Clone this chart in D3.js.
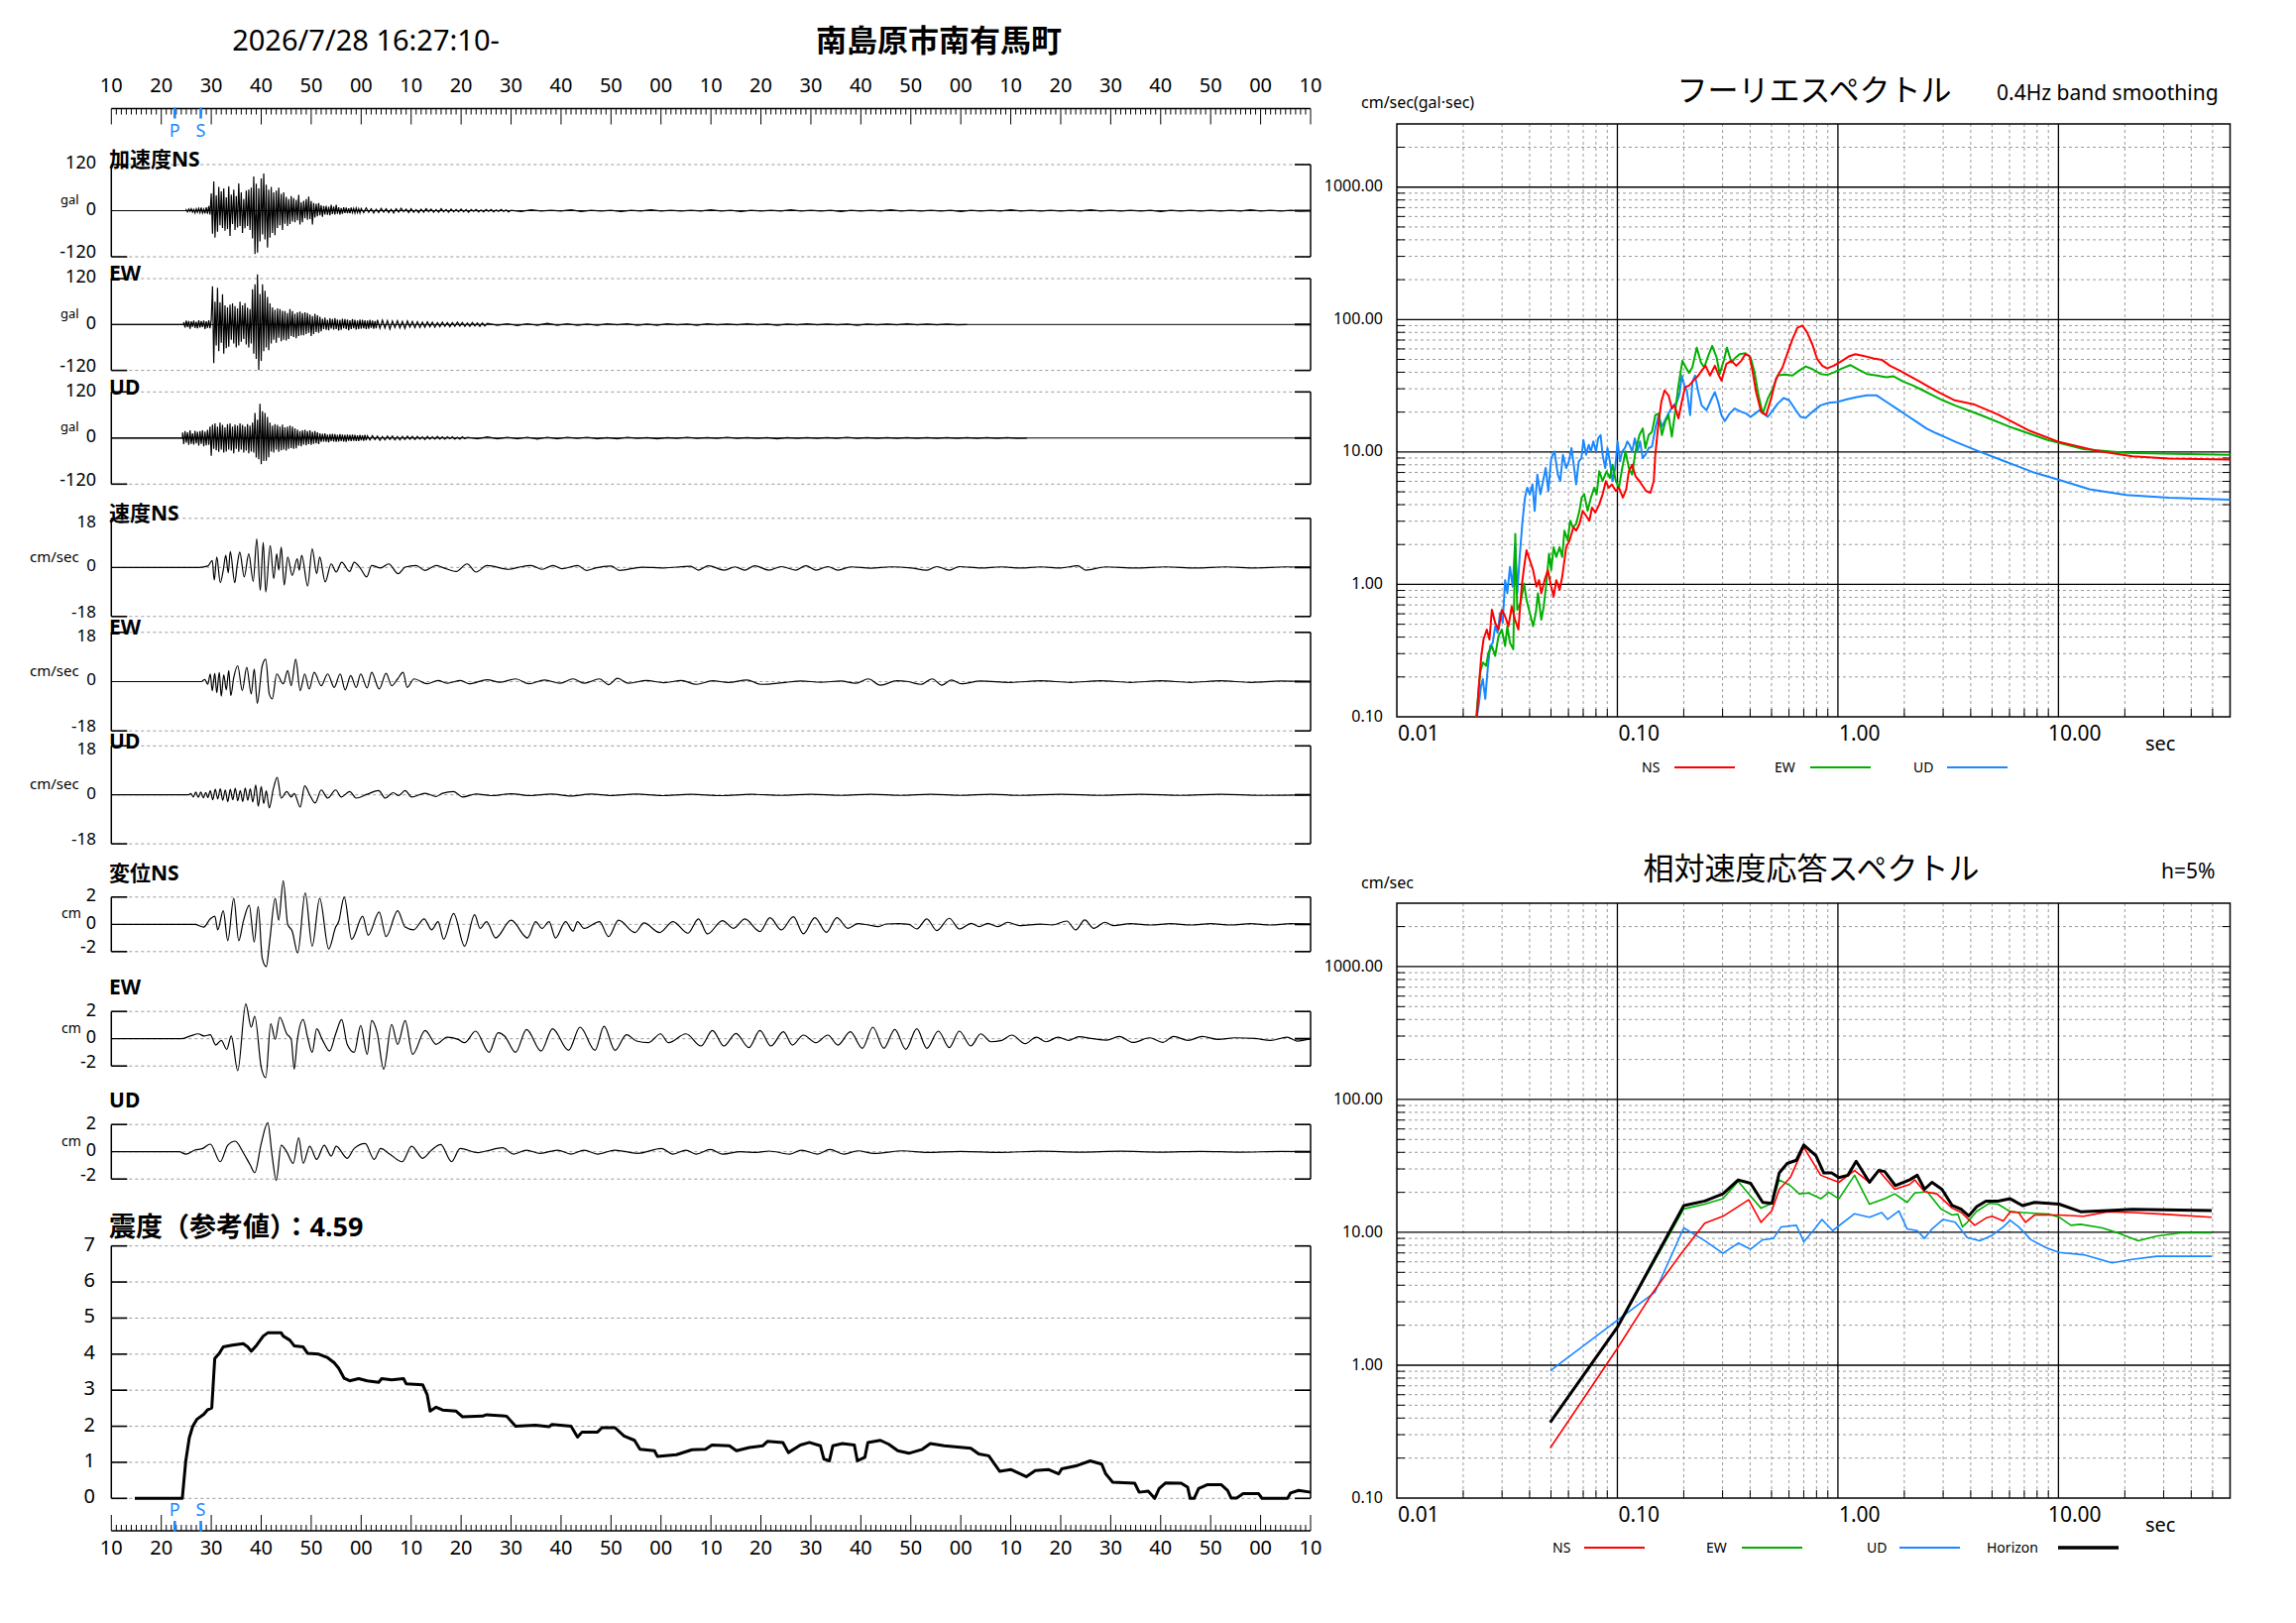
<!DOCTYPE html>
<html>
<head>
<meta charset="utf-8">
<script src="https://cdn.jsdelivr.net/npm/d3@7"></script>
<style>
  body { margin: 0; background: #fff; }
  text { font-family: "Noto Sans", "Noto Sans CJK JP", sans-serif; fill: #000; }
</style>
</head>
<body>
<script>
// ---------- data ----------
const startLabel = "2026/7/28 16:27:10-";
const stationName = "南島原市南有馬町";
const timeLabels = ["10","20","30","40","50","00","10","20","30","40","50","00","10",
                    "20","30","40","50","00","10","20","30","40","50","00","10"];
const pTime = 12.7;   // seconds after 16:27:10
const sTime = 17.9;
const intensityLabel = "震度（参考値）：4.59";

// acceleration (gal): [start sec, step sec, values]
const accNS = [
  [15, 0.25, [2,-3,4,-2,5,-4,3,-6,5,-4,6,-5,8,-6,4,-7,9,-8,12,-10,
    45,-60,76,-70,40,-55,62,-38,50,-45,58,-52,35,-48,63,-66,
    42,-35,55,-50,38,-44,71,-40,48,-58,30,-46,52,-40,55,-50,
    60,-72,89,-113,70,-109,58,-80,84,-62,97,-75,68,-96,55,-70,62,-58,48,-64,
    52,-45,60,-38,44,-50,48,-34,36,-40,30,-35,38,-28,33,-30,
    28,-25,41,-36,22,-30,26,-20,30,-24,37,-22,25,-36,20,-18,
    18,-15,20,-12,14,-16,12,-10,13,-11,10,-12,15,-9,11,-10,
    15,-8,9,-10,7,-8,9,-6,8,-7,6,-7,8,-5,6,-6,7,-5,5,-6]],
  [50, 0.5, [6,-5,7,-4,5,-6,4,-5,6,-4,5,-5,4,-6,5,-4,6,-3,4,-5,5,-4,3,-5,4,-4,5,-3,4,-4,
    3,-4,5,-3,3,-4,4,-3,3,-3,4,-3,3,-4,3,-2,3,-3,2,-3,3,-2,3,-3,2,-2,3,-2,2,-3]],
  [80, 2, [1,-2,2,-1,1,-1,2,-2,1,-1,1,-2,1,-1,2,-1,1,-1,1,-1,2,-1,1,-2,1,-1,1,-1,2,-1,
    1,-1,1,-2,1,-1,1,-1,2,-1,1,-1,1,-1,1,-2,1,-1,1,-1,2,-1,1,-1,1,-1,1,-1,2,-1,
    1,-1,1,-1,1,-2,1,-1,1,-1,1,-1,1,-1,2,-1,1,-1,1,-1,0]]
];
const accEW = [
  [14.5, 0.25, [6,-8,10,-7,9,-11,8,-6,10,-9,7,-10,11,-8,9,-7,10,-12,8,-9,11,-10,12,
    100,-101,60,-55,96,-70,58,-48,79,-76,50,-62,45,-58,52,-40,
    55,-50,48,-60,42,-55,60,-45,50,-38,56,-52,44,-60,40,-50,
    92,-76,105,-90,131,-119,80,-95,105,-70,88,-60,72,-67,55,-50,
    45,-40,38,-48,42,-35,40,-44,36,-40,35,-42,30,-38,40,-30,35,-33,28,-36,32,-30,34,-28,
    30,-28,32,-25,30,-22,26,-30,22,-25,28,-20,24,-22,20,-18,
    15,-12,18,-14,12,-15,16,-11,14,-13,17,-12,13,-16,12,-14,15,-10,14,-12,13,-15,
    11,-12,14,-10,12,-13,10,-12,13,-11,12,-10,11,-12,10,-11,12,-9,10,-11,9,-10]],
  [53.25, 0.5, [12,-10,11,-9,10,-12,9,-8,10,-9,8,-10,9,-7,8,-8,7,-8,6,-7,7,-6,
    6,-7,5,-6,6,-5,5,-6,5,-5,6,-4,5,-5,4,-5,5,-4,4,-5,4,-4]],
  [75.25, 2, [3,-2,2,-3,2,-2,3,-2,2,-2,1,-2,2,-1,2,-2,1,-2,2,-1,1,-2,2,-1,1,-1,2,-1,
    1,-2,1,-1,2,-1,1,-1,1,-2,1,-1,1,-1,2,-1,1,-1,1,-1,0]]
];
const accUD = [
  [14.25, 0.25, [14,-16,18,-12,15,-18,20,-15,12,-17,19,-14,16,-20,18,-15,20,-22,17,-19,21,-18,
    30,-46,35,-28,38,-32,30,-36,40,-30,34,-38,28,-35,36,-30,38,-33,30,-40,35,-28,32,-36,
    38,-30,34,-38,30,-33,36,-40,32,-35,40,-38,
    65,-51,48,-55,89,-68,70,-60,65,-59,55,-50,
    40,-35,32,-38,36,-30,34,-36,30,-32,35,-30,28,-33,30,-28,32,-26,30,-28,25,-27,
    22,-20,18,-22,20,-17,21,-19,18,-16,20,-18,16,-15,18,-14,15,-16,
    12,-10,11,-9,12,-10,9,-11,10,-8,11,-9,10,-10,8,-9,10,-8,9,-9,8,-10,9,-7,8,-8,
    9,-7,8,-8,7,-8,8,-6,7,-7,8,-6]],
  [51.25, 0.5, [6,-5,6,-4,5,-6,4,-5,5,-4,5,-5,4,-5,4,-4,5,-3,4,-4,4,-3,3,-4,4,-3,3,-3,
    4,-3,3,-3,3,-2,3,-3,2,-3,3,-2]],
  [71.25, 2, [2,-2,3,-2,2,-2,2,-3,2,-2,2,-1,2,-2,1,-2,2,-1,1,-2,1,-1,2,-1,1,-1,2,-1,
    1,-1,1,-2,1,-1,1,-1,1,-1,2,-1,1,-1,1,-1,1,-1,1,-1,1,-1,1,-1,1,-1,1,-1,0]]
];

// velocity (cm/sec): [sec, value] peaks
const velNS = [[0,0],[17.6,0],[19.3,0.5],[20.2,2.5],[20.6,-4.7],[21.1,3.8],[21.8,-5.6],[22.4,-1],
  [22.9,4.4],[23.4,-2],[23.8,5.8],[24.7,-5.6],[25.2,1],[25.7,5.6],[26.6,-3.5],[27.5,5.0],[28.4,-5.1],
  [29.1,10.4],[29.8,-8.4],[30.4,9.2],[30.9,-9.0],[31.8,8.0],[32.5,-4.1],[33.1,5.0],[33.5,-1],
  [34.0,7.4],[34.6,-6.5],[35.3,3.8],[36.2,-2.9],[37.2,3.2],[37.6,-1],[38.1,4.4],[39.3,-6.8],
  [40.2,6.8],[41.1,-2.3],[41.7,3.8],[42.8,-5.3],[44.0,1.3],[45.0,-1.7],[46.1,1.9],[47.7,-1.5],
  [48.6,1.9],[49.9,-0.5],[51.1,-3.5],[52.1,0.7],[53.9,-0.2],[55.5,1.3],[57.4,-2.3],[58.8,0.1],
  [61.0,0.7],[62.8,-1.1],[65.0,0.7],[66.3,0],[69.0,-1.5],[71.2,1.3],[73.0,-1.7],[75.2,0.7],
  [79.6,-0.7],[81.4,0],[84.0,0.7],[86.2,-0.7],[88.4,0.7],[90.2,-0.5],[93.3,0.7],[95.1,-1.1],
  [96.9,-0.2],[100.0,0.5],[101.7,-1.1],[106.2,0.1],[110.6,-0.2],[115.9,0.4],[117.5,-1.0],
  [119.5,0.6],[122.7,-1.0],[124.8,0.2],[126.8,-1.0],[128.8,0.6],[131.6,-1.0],[134.1,0.3],
  [137,-1.0],[139,0.6],[141,-1.0],[143.4,0.3],[145.4,-1.0],[148,0.2],[152,-0.3],[156,0.2],
  [160,-0.2],[163.2,-1.0],[165.2,0.3],[167.7,-1.0],[169.7,0.3],[174,-0.2],[178,0.2],[182,-0.2],
  [186,0.2],[190,-0.2],[193.4,0.6],[195,-1.0],[199,0.2],[205,-0.2],[211,0.2],[217,-0.2],
  [223,0.2],[229,-0.2],[235,0.2],[240,0]];
const velEW = [[0,0],[18.0,0],[18.7,0.8],[19.3,-1],[19.8,2.8],[20.2,-3.3],[20.7,3.0],[21.1,-4.0],
  [21.6,3.4],[22.0,-5.3],[22.5,2.5],[23.0,-3.0],[23.5,4.0],[23.9,-5.1],[24.5,1.5],[25.3,5.8],
  [26.2,-3.3],[27.1,5.2],[28.0,-4.5],[28.6,4.6],[29.2,-7.9],[30.2,5.8],[30.9,8.2],[31.6,-4.5],
  [32.2,-6.3],[33.1,2.8],[34.4,-0.8],[35.3,4.0],[36.0,-1.5],[36.9,8.2],[37.8,-3.3],[38.7,2.8],
  [39.6,-2.7],[40.6,3.4],[42.0,-1.5],[43.3,2.8],[44.6,-2.1],[45.8,2.8],[46.8,-3.0],[47.9,2.2],
  [49.0,-2.1],[49.9,2.8],[51.2,-2.3],[52.1,3.4],[53.6,-2.7],[55.0,3.0],[56.1,-1.5],[57.3,1.0],
  [58.4,3.4],[59.2,-2.1],[60.6,1.0],[63.2,-0.8],[65.4,0.4],[67.2,-0.6],[69.9,0.4],[71.6,-0.8],
  [75.2,0.7],[77.8,-0.2],[80.9,1.0],[83.6,-0.8],[86.7,0.6],[89.8,-0.6],[92.4,1.0],[94.6,-0.6],
  [97.7,1.0],[99.5,-1.1],[101.3,1.2],[103.5,-0.6],[107.1,0.4],[110.6,-0.4],[114.1,0.4],
  [117.1,-1.0],[120.3,0.3],[123.5,-0.3],[127.2,0.6],[130,-1.0],[134.9,-0.3],[138,0.2],[142,-0.2],
  [146,0.2],[149,-0.6],[151.5,1.0],[153.9,-1.3],[157.2,0.3],[159.5,0],[162,-1.0],[164.3,1.0],
  [166.2,-1.3],[168.1,0.6],[170.1,-0.8],[174,0.2],[180,-0.3],[186,0.3],[192,-0.3],[198,0.3],
  [204,-0.3],[210,0.3],[216,-0.3],[222,0.3],[228,-0.3],[234,0.2],[240,0]];
const velUD = [[0,0],[15.4,0],[15.9,0.5],[16.4,-0.8],[16.9,1.0],[17.4,-0.9],[17.9,1.0],[18.4,-1.1],
  [18.9,0.9],[19.3,-1.0],[19.8,1.5],[20.3,-1.8],[20.8,2.0],[21.3,-1.5],[21.8,2.2],[22.3,-2.0],
  [22.8,1.8],[23.3,-2.5],[23.8,2.0],[24.3,-1.8],[24.8,2.4],[25.3,-2.2],[25.8,1.6],[26.3,-2.4],
  [26.8,2.5],[27.3,-2.0],[27.8,2.2],[28.3,-2.6],[28.9,3.6],[29.4,-4.2],[30.0,3.0],[30.5,-3.2],
  [31.0,1.5],[31.6,-4.8],[32.4,2.0],[33.2,6.4],[34.0,-1.2],[35.1,1.2],[36.0,-0.8],[36.6,0.5],
  [37.8,-4.5],[38.7,3.3],[39.7,0],[40.8,-3.0],[42.0,1.8],[43.3,-1.2],[44.9,1.8],[46.0,-0.8],
  [47.7,1.2],[49.0,-1.2],[51.2,0.2],[53.5,1.6],[54.8,-1.2],[56.4,0.8],[57.5,-0.3],[58.8,1.6],
  [60.1,-0.8],[62.8,0.6],[65.0,-0.6],[66.3,0.6],[68.5,1.2],[70.3,-0.8],[73,0.3],[76,-0.3],
  [80,0.4],[84,-0.3],[88,0.3],[92,-0.4],[96,0.3],[100,-0.3],[105,0.3],[110,-0.3],[116,0.2],
  [122,-0.3],[128,0.2],[134,-0.2],[140,0.2],[146,-0.2],[152,0.2],[158,-0.2],[164,0.2],
  [170,-0.2],[176,0.2],[182,-0.2],[190,0.2],[198,-0.2],[206,0.2],[214,-0.2],[222,0.2],
  [230,-0.2],[240,0]];

// displacement (cm): [sec, value] peaks
const dispNS = [[0,0],[16.7,0],[18.5,-0.2],[19.8,0.4],[20.7,0.6],[21.3,-0.4],[22.4,1.0],[23.3,-1.2],
  [24.5,1.9],[25.5,-1.2],[26.4,0.2],[27.6,1.4],[28.6,-1.3],[29.4,1.3],[30.2,-2.5],[31.0,-3.1],
  [31.7,-1.2],[32.8,1.9],[33.5,0.3],[34.4,3.2],[35.3,0],[36.2,-0.5],[37.3,-2.1],[38.8,2.3],
  [40.2,-1.6],[41.7,1.9],[43.5,-1.8],[44.9,-0.2],[45.5,0.2],[46.6,2.0],[48.1,-1.1],[50.3,0.6],
  [51.4,-0.8],[53.6,0.9],[55.0,-0.9],[57.3,1.0],[58.8,-0.2],[60.5,-0.4],[62.6,0.4],[64.1,-0.4],
  [65.4,0.2],[66.5,-1.1],[68.5,0.8],[70.7,-1.6],[72.7,0.7],[73.8,-0.3],[75.1,0.2],[76.9,-1.0],
  [80.0,0.3],[83.3,-1.0],[84.9,0.2],[86.2,-0.3],[87.6,0.2],[88.9,-1.0],[90.9,0.2],[92.4,-0.5],
  [93.3,0.2],[94.6,-0.3],[97.7,0.2],[99.5,-0.9],[101.5,0.3],[104.8,-0.6],[106.6,0.1],[109.7,-0.6],
  [112.4,0.2],[115.4,-0.65],[117.5,0.39],[119.3,-0.7],[122.3,0.27],[124.5,-0.29],[126.8,0.39],
  [129.8,-0.53],[131.8,0.48],[134.1,-0.41],[136.5,0.56],[138.5,-0.7],[140.8,0.48],[143.1,-0.58],
  [145.2,0.48],[147.4,-0.29],[149.4,0.05],[151.5,-0.05],[153.5,-0.17],[155.1,0.02],[157.5,0.05],
  [159.6,0],[161.2,-0.34],[163.2,0.39],[165.2,-0.46],[167.7,0.44],[169.7,-0.34],[172.1,0.07],
  [173.7,-0.17],[175.4,0.07],[177.4,-0.17],[179.4,0.15],[181.8,-0.1],[185.9,0.02],[188.3,-0.05],
  [191.2,0.24],[193.0,-0.41],[194.8,0.32],[196.6,-0.29],[198.9,0.15],[200.5,-0.1],[204,0.05],
  [208,-0.05],[212,0.05],[216,-0.05],[220,0.05],[224,-0.05],[228,0.05],[232,-0.05],[236,0.05],[240,0]];
const dispEW = [[0,0],[14.0,0],[15.8,0.2],[17.4,0.36],[18.6,0.2],[19.8,0.3],[20.9,-0.46],[22.0,-0.12],
  [23.1,-0.78],[24.0,0.2],[25.3,-2.35],[26.9,2.55],[28.0,0.85],[28.7,1.65],[30.0,-2.1],[30.9,-2.85],
  [31.9,1.1],[32.8,-0.05],[33.7,1.58],[35.1,0.36],[36.0,-0.05],[36.6,-2.23],[37.2,-0.17],[38.4,1.4],
  [39.3,0.07],[40.2,-1.0],[41.1,0.73],[42.2,-0.05],[43.7,-0.9],[44.9,0.36],[46.1,1.4],[47.2,-0.41],
  [48.6,-1.0],[49.9,0.97],[51.2,-1.14],[52.1,1.33],[53.2,0.44],[54.5,-2.23],[56.1,1.04],[57.3,-0.41],
  [58.8,1.33],[60.3,-1.14],[62.8,0.61],[65.0,-0.41],[67.2,0.12],[69.4,-0.05],[70.7,-0.29],[72.9,0.56],
  [75.6,-1.0],[77.4,0.44],[78.7,0.2],[80.9,-1.0],[83.1,0.68],[86.0,-0.9],[88.3,0.73],[91.5,-0.85],
  [93.8,0.85],[96.8,-0.85],[98.6,0.92],[100.8,-0.85],[103.1,0.3],[105.1,-0.17],[107.5,-0.29],
  [109.9,0.36],[111.5,-0.29],[115.0,0.36],[118.0,-0.53],[120.3,0.61],[122.6,-0.53],[125.0,0.39],
  [127.6,-0.65],[129.8,0.61],[132.0,-0.53],[134.5,0.51],[136.3,-0.46],[138.5,0.27],[141.0,-0.29],
  [143.4,0.27],[145.4,-0.46],[147.9,0.51],[150.3,-0.7],[152.4,0.85],[154.6,-0.7],[156.8,0.68],
  [159.0,-0.78],[161.2,0.73],[163.2,-0.7],[165.5,0.56],[167.7,-0.65],[169.7,0.56],[172.0,-0.53],
  [174.0,0.36],[176.0,-0.22],[178.2,-0.12],[180.2,0.27],[182.9,-0.36],[185.1,0.12],[187.1,-0.22],
  [189.5,0.12],[191.6,-0.12],[193.6,0.15],[196.5,0],[199.2,-0.1],[201.7,0.17],[204.5,-0.27],
  [207.8,0.07],[210.4,-0.27],[212.6,0.17],[215.5,-0.12],[218.3,0.17],[221.5,-0.05],[224.8,0.07],
  [228.8,0.02],[232.0,-0.12],[235.3,0.12],[237.3,-0.17],[240,0]];
const dispUD = [[0,0],[13.6,0],[14.9,-0.17],[16.7,0.12],[18.3,0.24],[19.8,0.56],[21.8,-0.73],[23.3,0.48],
  [24.8,0.78],[26.3,0],[27.8,-0.97],[28.7,-1.53],[30.0,0.61],[31.3,2.13],[32.2,-0.36],[33.0,-2.1],
  [34.0,0.48],[35.1,0],[36.4,-0.85],[37.5,1.02],[38.4,-0.85],[39.7,0.41],[41.1,-0.56],[42.6,0.48],
  [44.0,-0.32],[45.0,0.41],[47.2,-0.48],[48.6,0.24],[50.8,0.61],[52.6,-0.56],[53.9,0.24],[55.7,-0.17],
  [58.2,-0.73],[60.1,0.41],[62.3,-0.48],[64.1,0.12],[65.9,0.53],[68.1,-0.73],[69.8,0.24],[73.4,-0.07],
  [75.2,0.07],[78.3,0.29],[80.5,-0.17],[83.1,0.12],[85.8,-0.12],[89.3,0.12],[92.0,-0.17],[94.6,0.12],
  [97.3,-0.17],[100.8,0.12],[105.3,-0.12],[110.1,0.24],[112.4,-0.17],[115.0,0.12],[117.0,-0.17],
  [119.9,0.17],[122.3,-0.17],[125.9,0],[129.2,-0.05],[131.6,0.05],[135.8,-0.17],[138.1,0.12],
  [141.3,-0.17],[143.8,0.17],[146.6,-0.17],[149.4,0.07],[152.7,-0.12],[158.4,0.07],[163.2,-0.05],
  [170,0.03],[178,-0.05],[186,0.04],[194,-0.03],[202,0.04],[210,-0.03],[218,0.03],[226,-0.03],
  [234,0.02],[240,0]];

// real-time seismic intensity: [sec, value]
const intensity = [[4.7,0],[14.2,0],[14.9,1.04],[15.6,1.68],[16.3,2.0],[17.1,2.19],[18.5,2.33],
  [19.3,2.46],[20.1,2.51],[20.7,3.88],[21.6,4.02],[22.4,4.2],[24.2,4.25],[26.4,4.29],[27.3,4.2],
  [28.0,4.08],[29.1,4.25],[30.4,4.5],[31.3,4.59],[34.0,4.59],[34.4,4.5],[35.7,4.39],[36.6,4.23],
  [38.4,4.2],[39.3,4.02],[41.5,4.0],[43.3,3.9],[44.6,3.76],[45.5,3.61],[46.6,3.33],[47.7,3.26],
  [49.5,3.32],[51.2,3.26],[53.5,3.22],[54.1,3.32],[56.1,3.29],[58.5,3.32],[59.0,3.18],[62.3,3.15],
  [63.2,2.88],[63.8,2.42],[65.0,2.53],[66.3,2.45],[69.0,2.42],[70.3,2.26],[74.3,2.28],[75.1,2.32],
  [79.1,2.28],[80.9,2.0],[84.9,2.03],[87.6,1.99],[88.2,2.05],[92.0,2.0],[93.3,1.70],[94.2,1.84],
  [97.3,1.84],[98.2,1.96],[100.8,1.96],[102.6,1.73],[104.7,1.61],[105.8,1.36],[108.7,1.32],
  [109.3,1.16],[113.1,1.21],[116.2,1.35],[118.9,1.36],[120.2,1.48],[123.7,1.46],[125.1,1.32],
  [127.7,1.41],[130.4,1.46],[131.3,1.58],[134.4,1.55],[135.5,1.27],[137.9,1.48],[139.7,1.55],
  [141.9,1.46],[142.6,1.09],[143.7,1.04],[144.4,1.46],[146.3,1.52],[148.7,1.48],[149.3,1.04],
  [150.8,1.14],[151.4,1.55],[153.9,1.61],[155.6,1.50],[157.4,1.32],[159.6,1.25],[162.3,1.36],
  [163.9,1.52],[166.7,1.46],[172.0,1.39],[173.6,1.23],[175.6,1.18],[177.8,0.75],[180.0,0.80],
  [183.1,0.60],[184.9,0.77],[187.5,0.80],[189.6,0.68],[190.2,0.82],[193.3,0.91],[195.9,1.04],
  [198.2,0.95],[199.0,0.68],[200.4,0.45],[204.8,0.42],[205.7,0.17],[207.5,0.20],[208.8,0],
  [209.7,0.27],[211.0,0.43],[214.1,0.42],[215.4,0.31],[215.9,0],[216.7,0],[217.6,0.27],[219.4,0.38],
  [222.1,0.38],[223.4,0.22],[224.1,0.01],[225.2,0.01],[226.5,0.13],[229.6,0.13],[230.3,0],
  [235.4,0],[236.0,0.15],[237.6,0.22],[240,0.17]];

// Fourier spectrum, 0.4Hz smoothing: [log10 period(sec), log10 amplitude(cm/sec)]
const fasNS = [[-1.637,-1.0],[-1.629,-0.79],[-1.617,-0.54],[-1.607,-0.416],[-1.592,-0.341],[-1.580,-0.416],
  [-1.569,-0.192],[-1.554,-0.291],[-1.539,-0.341],[-1.524,-0.192],[-1.509,-0.242],[-1.494,-0.316],
  [-1.479,-0.167],[-1.464,-0.266],[-1.449,-0.341],[-1.434,-0.017],[-1.423,0.132],[-1.412,0.257],
  [-1.397,0.182],[-1.382,0.107],[-1.367,-0.017],[-1.355,0.032],[-1.345,-0.067],[-1.330,0.032],
  [-1.315,0.107],[-1.300,-0.017],[-1.289,-0.092],[-1.277,0.032],[-1.262,-0.042],[-1.250,0.057],
  [-1.232,0.281],[-1.217,0.331],[-1.199,0.431],[-1.187,0.406],[-1.172,0.456],[-1.157,0.555],
  [-1.142,0.518],[-1.127,0.481],[-1.115,0.580],[-1.100,0.543],[-1.082,0.605],[-1.067,0.680],
  [-1.052,0.780],[-1.040,0.730],[-1.025,0.755],[-1.007,0.705],[-0.993,0.730],[-0.975,0.655],
  [-0.960,0.717],[-0.948,0.854],[-0.933,0.904],[-0.918,0.817],[-0.900,0.780],[-0.885,0.742],
  [-0.870,0.705],[-0.850,0.692],[-0.835,0.780],[-0.828,0.979],[-0.816,1.178],[-0.801,1.377],
  [-0.786,1.465],[-0.768,1.427],[-0.753,1.328],[-0.741,1.352],[-0.723,1.253],[-0.708,1.377],
  [-0.693,1.489],[-0.675,1.502],[-0.655,1.539],[-0.633,1.577],[-0.618,1.614],[-0.600,1.651],
  [-0.580,1.577],[-0.558,1.651],[-0.543,1.589],[-0.528,1.539],[-0.506,1.664],[-0.483,1.689],
  [-0.461,1.651],[-0.438,1.689],[-0.420,1.738],[-0.401,1.726],[-0.386,1.601],[-0.371,1.452],
  [-0.348,1.303],[-0.326,1.278],[-0.303,1.402],[-0.281,1.552],[-0.251,1.639],[-0.228,1.751],
  [-0.206,1.851],[-0.184,1.938],[-0.161,1.955],[-0.139,1.900],[-0.116,1.813],[-0.094,1.701],
  [-0.071,1.651],[-0.049,1.631],[-0.019,1.651],[0.019,1.689],[0.049,1.721],[0.079,1.738],
  [0.116,1.726],[0.161,1.706],[0.199,1.696],[0.236,1.651],[0.281,1.614],[0.326,1.572],[0.371,1.532],
  [0.416,1.489],[0.461,1.447],[0.530,1.390],[0.615,1.361],[0.726,1.282],[0.864,1.164],[1.003,1.075],
  [1.169,1.011],[1.335,0.968],[1.501,0.950],[1.778,0.943]];
const fasEW = [[-1.640,-1.0],[-1.634,-0.889],[-1.622,-0.665],[-1.610,-0.590],[-1.595,-0.615],[-1.585,-0.516],
  [-1.569,-0.466],[-1.554,-0.540],[-1.539,-0.391],[-1.524,-0.341],[-1.509,-0.466],[-1.499,-0.316],
  [-1.487,-0.441],[-1.472,-0.490],[-1.463,0.381],[-1.454,-0.192],[-1.439,-0.142],[-1.423,0.007],
  [-1.412,-0.117],[-1.397,-0.216],[-1.382,-0.316],[-1.370,-0.216],[-1.360,-0.067],[-1.345,-0.266],
  [-1.334,-0.167],[-1.322,0.007],[-1.310,0.232],[-1.300,0.107],[-1.289,0.281],[-1.277,0.207],
  [-1.262,0.281],[-1.250,0.207],[-1.240,0.406],[-1.225,0.331],[-1.214,0.481],[-1.202,0.431],
  [-1.187,0.456],[-1.172,0.555],[-1.162,0.655],[-1.150,0.680],[-1.135,0.555],[-1.120,0.655],
  [-1.105,0.730],[-1.094,0.680],[-1.082,0.854],[-1.067,0.780],[-1.049,0.854],[-1.034,0.804],
  [-1.022,0.904],[-1.007,0.780],[-0.993,0.730],[-0.978,0.879],[-0.963,1.004],[-0.948,0.879],
  [-0.933,0.829],[-0.918,1.004],[-0.900,1.128],[-0.885,1.178],[-0.873,1.029],[-0.858,1.128],
  [-0.843,1.153],[-0.828,1.278],[-0.813,1.290],[-0.798,1.128],[-0.783,1.228],[-0.768,1.278],
  [-0.753,1.116],[-0.738,1.303],[-0.723,1.502],[-0.705,1.689],[-0.690,1.639],[-0.675,1.597],
  [-0.660,1.639],[-0.640,1.788],[-0.621,1.676],[-0.606,1.639],[-0.588,1.726],[-0.570,1.801],
  [-0.550,1.714],[-0.536,1.589],[-0.516,1.701],[-0.503,1.788],[-0.483,1.676],[-0.468,1.706],
  [-0.446,1.738],[-0.420,1.746],[-0.396,1.714],[-0.378,1.601],[-0.360,1.427],[-0.341,1.290],
  [-0.318,1.402],[-0.296,1.477],[-0.273,1.577],[-0.243,1.584],[-0.206,1.577],[-0.176,1.614],
  [-0.146,1.646],[-0.116,1.626],[-0.079,1.589],[-0.049,1.582],[-0.019,1.601],[0.019,1.631],
  [0.056,1.656],[0.094,1.621],[0.131,1.589],[0.176,1.577],[0.221,1.564],[0.251,1.572],[0.296,1.532],
  [0.341,1.502],[0.386,1.465],[0.431,1.427],[0.476,1.390],[0.530,1.352],[0.643,1.282],[0.781,1.189],
  [0.947,1.093],[1.114,1.021],[1.307,0.993],[1.529,0.986],[1.778,0.979]];
const fasUD = [[-1.637,-1.0],[-1.629,-0.914],[-1.618,-0.765],[-1.610,-0.715],[-1.599,-0.864],[-1.588,-0.640],
  [-1.577,-0.466],[-1.565,-0.441],[-1.554,-0.316],[-1.543,-0.366],[-1.532,-0.216],[-1.520,-0.291],
  [-1.509,0.032],[-1.499,-0.067],[-1.487,0.132],[-1.475,-0.017],[-1.464,0.306],[-1.454,-0.067],
  [-1.442,0.232],[-1.430,0.481],[-1.419,0.655],[-1.409,0.730],[-1.397,0.680],[-1.385,0.755],
  [-1.375,0.555],[-1.363,0.829],[-1.349,0.680],[-1.337,0.780],[-1.325,0.879],[-1.313,0.705],
  [-1.300,0.954],[-1.285,1.004],[-1.270,0.829],[-1.259,0.780],[-1.247,0.979],[-1.232,0.879],
  [-1.220,0.929],[-1.208,1.029],[-1.196,0.879],[-1.187,0.755],[-1.175,0.929],[-1.163,0.954],
  [-1.154,1.091],[-1.142,0.979],[-1.130,1.054],[-1.120,1.004],[-1.109,1.079],[-1.097,1.004],
  [-1.087,1.103],[-1.076,1.128],[-1.067,0.979],[-1.055,0.879],[-1.045,1.029],[-1.034,0.929],
  [-1.022,0.780],[-1.010,0.879],[-0.999,1.079],[-0.988,0.929],[-0.978,1.004],[-0.966,1.029],
  [-0.955,1.079],[-0.945,1.054],[-0.933,1.004],[-0.921,1.103],[-0.909,1.004],[-0.897,1.079],
  [-0.885,0.954],[-0.873,0.979],[-0.858,1.029],[-0.843,1.041],[-0.828,1.178],[-0.813,1.278],
  [-0.798,1.191],[-0.780,1.253],[-0.760,1.315],[-0.745,1.352],[-0.730,1.377],[-0.718,1.440],
  [-0.708,1.577],[-0.696,1.502],[-0.685,1.465],[-0.670,1.278],[-0.660,1.527],[-0.648,1.577],
  [-0.633,1.452],[-0.618,1.352],[-0.596,1.315],[-0.576,1.390],[-0.558,1.452],[-0.543,1.377],
  [-0.528,1.278],[-0.513,1.233],[-0.491,1.290],[-0.468,1.328],[-0.438,1.303],[-0.416,1.290],
  [-0.396,1.265],[-0.375,1.290],[-0.356,1.315],[-0.336,1.290],[-0.318,1.265],[-0.300,1.303],
  [-0.273,1.365],[-0.246,1.407],[-0.221,1.390],[-0.191,1.315],[-0.169,1.265],[-0.146,1.258],
  [-0.116,1.303],[-0.079,1.352],[-0.041,1.372],[-0.004,1.377],[0.041,1.397],[0.086,1.415],
  [0.131,1.427],[0.176,1.427],[0.221,1.377],[0.266,1.328],[0.311,1.278],[0.356,1.228],[0.401,1.178],
  [0.446,1.141],[0.491,1.108],[0.530,1.078],[0.615,1.021],[0.753,0.932],[0.892,0.843],[1.003,0.789],
  [1.141,0.718],[1.307,0.675],[1.501,0.654],[1.778,0.639]];

// relative velocity response spectrum, h=5%: [period sec, cm/sec]
const rsNS = [[0.0496,0.238],[0.1,1.34],[0.145,3.54],[0.193,6.78],[0.249,11.7],[0.301,13.2],[0.394,17.6],
  [0.448,11.9],[0.502,14.6],[0.542,21.1],[0.608,25.8],[0.700,43.7],[0.836,26.9],[1.01,23.8],[1.19,29.2],
  [1.39,23.8],[1.53,29.2],[1.81,21.1],[2.11,22.9],[2.23,24.8],[2.47,20.2],[2.81,19.5],[3.30,15.2],
  [3.63,14.1],[4.17,11.3],[4.69,12.8],[5.0,13.2],[5.63,12.2],[6.04,14.3],[6.6,14.1],[7.08,11.9],
  [7.8,13.5],[10.07,13.5],[13.0,13.2],[16.8,14.3],[21.6,14.1],[29.8,13.7],[49.5,13.0]];
const rsEW = [[0.0496,0.37],[0.1,1.93],[0.2,15.0],[0.249,16.3],[0.301,17.9],[0.353,24.2],[0.402,18.7],
  [0.448,15.2],[0.502,16.5],[0.542,24.8],[0.608,22.5],[0.668,19.5],[0.737,19.8],[0.836,17.9],[0.91,20],
  [1.01,17.9],[1.19,26.9],[1.39,16.3],[1.63,17.9],[1.81,19.5],[2.06,16.8],[2.23,19.8],[2.54,20.2],
  [2.93,15],[3.30,13.5],[3.5,13.7],[3.67,11.0],[3.86,11.9],[4.26,14.4],[4.84,16.5],[5.32,16.3],
  [6.04,14.3],[7.8,13.9],[9.1,13.7],[10.07,13.0],[11.4,11.3],[12.6,11.5],[15.8,10.8],[19.1,9.76],
  [23.0,8.65],[27.9,9.37],[35.9,9.9],[49.5,9.9]];
const rsUD = [[0.0496,0.908],[0.1,2.18],[0.148,3.54],[0.2,10.8],[0.249,8.65],[0.301,6.95],[0.353,8.3],
  [0.402,7.47],[0.456,8.79],[0.51,9.0],[0.553,11.0],[0.648,11.3],[0.700,8.5],[0.785,10.6],[0.846,12.5],
  [0.947,10.3],[1.19,13.8],[1.39,13.0],[1.58,14.1],[1.68,12.5],[1.89,14.5],[2.06,10.6],[2.29,10.3],
  [2.47,9.0],[2.67,10.6],[3.0,12.5],[3.4,11.9],[3.86,9.14],[4.4,8.65],[5.0,9.5],[5.63,11.0],[6.04,12.3],
  [6.6,11.0],[7.5,8.8],[8.8,7.66],[10.07,7.06],[13.0,6.78],[17.5,5.9],[21.6,6.25],[27.9,6.6],[49.5,6.6]];
const rsH = [[0.0496,0.372],[0.1,1.93],[0.2,15.9],[0.249,17.2],[0.301,19.5],[0.353,24.8],[0.402,23.4],
  [0.456,16.8],[0.502,16.5],[0.542,28],[0.589,33],[0.648,34.9],[0.700,45.5],[0.795,37.8],[0.863,28],
  [0.937,28],[1.01,25.8],[1.11,26.9],[1.21,34.3],[1.39,23.8],[1.53,29.2],[1.63,28.7],[1.82,22.5],
  [2.11,24.8],[2.29,26.9],[2.47,21.1],[2.67,23.8],[2.96,21.1],[3.30,15.9],[3.63,14.9],[3.92,13.3],
  [4.26,15.6],[4.69,17.2],[5.32,17.2],[6.04,17.9],[6.87,15.9],[7.80,16.8],[10.07,16.3],[12.6,14.3],
  [16.8,14.6],[21.6,14.9],[49.5,14.6]];

// ---------- layout ----------
const W = 2316, H = 1637;
const x0 = 112.3, x1 = 1322;
const red = "#ff0000", green = "#00b000", blue = "#1a88ff";

const svg = d3.select("body").append("svg")
  .attr("width", W).attr("height", H)
  .attr("viewBox", `0 0 ${W} ${H}`);

const xT = d3.scaleLinear().domain([0, 240]).range([x0, x1]);

// header
svg.append("text").attr("x", 369).attr("y", 41).attr("dy", "0.35em")
  .attr("text-anchor", "middle").style("font-size", "29px").text(startLabel);
svg.append("text").attr("x", 947).attr("y", 41).attr("dy", "0.35em")
  .attr("text-anchor", "middle").style("font-size", "31px").style("font-weight", "bold")
  .style("font-family", "'Noto Sans CJK JP'").text(stationName);

// time axis (top or bottom)
function timeAxis(yLine, dir, labelY, psLetterY) {
  const g = svg.append("g");
  g.append("line").attr("x1", x0).attr("x2", x1).attr("y1", yLine).attr("y2", yLine)
    .attr("stroke", "#000").attr("stroke-width", 1.5);
  g.selectAll(".tk").data(d3.range(0, 241)).enter().append("line")
    .attr("x1", d => xT(d)).attr("x2", d => xT(d))
    .attr("y1", yLine).attr("y2", d => yLine + dir * (d % 10 === 0 ? 16 : 6))
    .attr("stroke", "#000").attr("stroke-width", 1);
  g.selectAll(".lb").data(timeLabels).enter().append("text")
    .attr("x", (d, i) => xT(i * 10)).attr("y", labelY).attr("dy", "0.35em")
    .attr("text-anchor", "middle").style("font-size", "20px").text(d => d);
  [[pTime, "P"], [sTime, "S"]].forEach(([t, s]) => {
    g.append("rect").attr("x", xT(t) - 1.3).attr("width", 2.6)
      .attr("y", dir > 0 ? yLine - 1 : yLine - 10).attr("height", 11).attr("fill", blue);
    g.append("text").attr("x", xT(t)).attr("y", psLetterY).attr("dy", "0.35em")
      .attr("text-anchor", "middle").style("font-size", "18px").style("fill", blue).text(s);
  });
}
timeAxis(109.5, 1, 86, 132);
timeAxis(1544, -1, 1561, 1523);

// waveform panels
function expand(segs) {
  const pts = [[0, 0], [segs[0][0] - 0.01, 0]];
  segs.forEach(([t0, dt, vals]) => vals.forEach((v, i) => pts.push([t0 + i * dt, v])));
  return pts.filter(d => d[0] <= 240);
}

const panels = [
  { title: "加速度NS", unit: "gal", max: 120, data: expand(accNS), zero: 212.5, half: 46.5, kind: "acc" },
  { title: "EW", unit: "gal", max: 120, data: expand(accEW), zero: 327.3, half: 46.3, kind: "acc" },
  { title: "UD", unit: "gal", max: 120, data: expand(accUD), zero: 441.8, half: 46.5, kind: "acc" },
  { title: "速度NS", unit: "cm/sec", max: 18, data: velNS, zero: 572.3, half: 49.5, kind: "vel" },
  { title: "EW", unit: "cm/sec", max: 18, data: velEW, zero: 687.5, half: 49.7, kind: "vel" },
  { title: "UD", unit: "cm/sec", max: 18, data: velUD, zero: 801.7, half: 49.4, kind: "vel" },
  { title: "変位NS", unit: "cm", max: 2, data: dispNS, zero: 932.3, half: 27.5, kind: "disp" },
  { title: "EW", unit: "cm", max: 2, data: dispEW, zero: 1047.7, half: 27.5, kind: "disp" },
  { title: "UD", unit: "cm", max: 2, data: dispUD, zero: 1161.7, half: 27.5, kind: "disp" }
];

function hLine(g, y, dotted) {
  g.append("line").attr("x1", x0).attr("x2", x1).attr("y1", y).attr("y2", y)
    .attr("stroke", dotted ? "#9a9a9a" : "#000").attr("stroke-width", 1)
    .attr("stroke-dasharray", dotted ? "3,3" : null);
}
function stubs(g, ys) {
  ys.forEach(y => {
    g.append("line").attr("x1", x0).attr("x2", x0 + 16).attr("y1", y).attr("y2", y)
      .attr("stroke", "#000").attr("stroke-width", 1.6);
    g.append("line").attr("x1", x1 - 16).attr("x2", x1).attr("y1", y).attr("y2", y)
      .attr("stroke", "#000").attr("stroke-width", 1.6);
  });
}

panels.forEach(p => {
  const g = svg.append("g");
  const top = p.zero - p.half, bot = p.zero + p.half;
  const y = d3.scaleLinear().domain([-p.max, p.max]).range([bot, top]);

  hLine(g, top, true);
  hLine(g, bot, true);
  hLine(g, p.zero, p.kind !== "acc");
  [x0, x1].forEach(xx => g.append("line").attr("x1", xx).attr("x2", xx)
    .attr("y1", top).attr("y2", bot).attr("stroke", "#000").attr("stroke-width", 1.5));
  stubs(g, [top, bot]);
  g.append("line").attr("x1", x1 - 16).attr("x2", x1).attr("y1", p.zero).attr("y2", p.zero)
    .attr("stroke", "#000").attr("stroke-width", 2);

  const curve = p.kind === "acc" ? d3.curveLinear : d3.curveMonotoneX;
  g.append("path").datum(p.data)
    .attr("d", d3.line().x(d => xT(d[0])).y(d => y(d[1])).curve(curve))
    .attr("fill", "none").attr("stroke", "#000").attr("stroke-width", 1.2);

  // labels (velocity panels sit close together, so nudge their end labels apart)
  const nudge = p.kind === "vel" ? 3 : -2;
  const fs = p.kind === "vel" ? 17 : 18;
  [[p.max, String(p.max), nudge], [0, "0", -2], [-p.max, "-" + p.max, -5]].forEach(([v, s, dy]) => {
    g.append("text").attr("x", 97).attr("y", y(v) + dy).attr("dy", "0.35em")
      .attr("text-anchor", "end").style("font-size", fs + "px").text(s);
  });
  const uFont = { gal: 13, "cm/sec": 15, cm: 14 }[p.unit];
  const uX = { gal: 61, "cm/sec": 30, cm: 62 }[p.unit];
  g.append("text").attr("x", uX).attr("y", p.zero - 11).attr("dy", "0.35em")
    .style("font-size", uFont + "px").text(p.unit);
  const titleY = p.kind === "disp" ? p.zero - 52 : top - 5;
  g.append("text").attr("x", 110).attr("y", titleY).attr("dy", "0.35em")
    .style("font-size", "21px").style("font-weight", "bold").text(p.title);
});

// intensity panel
const yI = d3.scaleLinear().domain([0, 7]).range([1511.3, 1256.7]);
const gI = svg.append("g");
d3.range(0, 8).forEach(v => {
  hLine(gI, yI(v), true);
  gI.append("text").attr("x", 96).attr("y", yI(v) - 2).attr("dy", "0.35em")
    .attr("text-anchor", "end").style("font-size", "20px").text(v);
});
stubs(gI, d3.range(0, 8).map(v => yI(v)));
[x0, x1].forEach(xx => gI.append("line").attr("x1", xx).attr("x2", xx)
  .attr("y1", yI(7)).attr("y2", yI(0)).attr("stroke", "#000").attr("stroke-width", 1.5));
gI.append("text").attr("x", 110).attr("y", 1238).attr("dy", "0.35em")
  .style("font-size", "27px").style("font-weight", "bold").text(intensityLabel);
gI.append("path").datum(intensity)
  .attr("d", d3.line().x(d => xT(d[0])).y(d => yI(d[1])))
  .attr("fill", "none").attr("stroke", "#000").attr("stroke-width", 3)
  .attr("stroke-linejoin", "round");

// ---------- spectra ----------
function spectrum(cfg) {
  const g = svg.append("g");
  const x = d3.scaleLog().domain([0.01, 60]).range([1409, 2249.5]);
  const y = d3.scaleLog().domain([0.1, 3000]).range([cfg.bottom, cfg.top]);
  const L = 1409, R = 2249.5;

  const minors = (lo, hi) => {
    const out = [];
    [0.01, 0.1, 1, 10, 100, 1000].forEach(dec => d3.range(2, 10).forEach(k => {
      const v = +(k * dec).toPrecision(3);
      if (v > lo && v < hi) out.push(v);
    }));
    return out;
  };
  const xMin = minors(0.01, 60), yMin = minors(0.1, 3000);

  g.selectAll(".xm").data(xMin).enter().append("line")
    .attr("x1", d => x(d)).attr("x2", d => x(d)).attr("y1", cfg.top).attr("y2", cfg.bottom)
    .attr("stroke", "#9a9a9a").attr("stroke-dasharray", "3,3");
  g.selectAll(".ym").data(yMin).enter().append("line")
    .attr("x1", L).attr("x2", R).attr("y1", d => y(d)).attr("y2", d => y(d))
    .attr("stroke", "#9a9a9a").attr("stroke-dasharray", "3,3");
  // minor ticks on the frame
  g.selectAll(".xt").data(xMin).enter().append("line")
    .attr("x1", d => x(d)).attr("x2", d => x(d)).attr("y1", cfg.bottom).attr("y2", cfg.bottom - 8)
    .attr("stroke", "#000");
  yMin.forEach(v => {
    g.append("line").attr("x1", L).attr("x2", L + 8).attr("y1", y(v)).attr("y2", y(v)).attr("stroke", "#000");
    g.append("line").attr("x1", R - 8).attr("x2", R).attr("y1", y(v)).attr("y2", y(v)).attr("stroke", "#000");
  });
  [0.1, 1, 10].forEach(v => g.append("line").attr("x1", x(v)).attr("x2", x(v))
    .attr("y1", cfg.top).attr("y2", cfg.bottom).attr("stroke", "#000").attr("stroke-width", 1.3));
  [1, 10, 100, 1000].forEach(v => g.append("line").attr("x1", L).attr("x2", R)
    .attr("y1", y(v)).attr("y2", y(v)).attr("stroke", "#000").attr("stroke-width", 1.3));
  g.append("rect").attr("x", L).attr("y", cfg.top).attr("width", R - L)
    .attr("height", cfg.bottom - cfg.top).attr("fill", "none").attr("stroke", "#000").attr("stroke-width", 1.5);

  // axis labels
  [0.1, 1, 10, 100, 1000].forEach(v => g.append("text")
    .attr("x", 1395).attr("y", y(v) - 1).attr("dy", "0.35em").attr("text-anchor", "end")
    .style("font-size", "16px").text(v.toFixed(2)));
  [0.01, 0.1, 1, 10].forEach(v => {
    const s = v.toFixed(2);
    g.append("text").attr("x", x(v) + 1 - (s.indexOf(".") - 1) * 11.5).attr("y", cfg.bottom + 17)
      .attr("dy", "0.35em").style("font-size", "21px").text(s);
  });
  g.append("text").attr("x", 2164).attr("y", cfg.bottom + 27).attr("dy", "0.35em")
    .style("font-size", "20px").text("sec");

  g.append("text").attr("x", cfg.titleX).attr("y", cfg.titleY).attr("dy", "0.35em")
    .attr("text-anchor", "middle").style("font-size", "31px")
    .style("font-family", "'Noto Sans CJK JP'").text(cfg.title);
  g.append("text").attr("x", cfg.noteX).attr("y", cfg.titleY + 3).attr("dy", "0.35em")
    .style("font-size", cfg.noteSize + "px").text(cfg.note);
  g.append("text").attr("x", 1373).attr("y", cfg.unitY).attr("dy", "0.35em")
    .style("font-size", "16px").text(cfg.unit);

  const line = d3.line().x(d => x(d[0])).y(d => y(d[1]));
  cfg.series.forEach(s => g.append("path").datum(s.data).attr("d", line)
    .attr("fill", "none").attr("stroke", s.color).attr("stroke-width", s.width)
    .attr("stroke-linejoin", "round"));

  cfg.legend.forEach(l => {
    g.append("text").attr("x", l.tx).attr("y", cfg.legendY).attr("dy", "0.35em")
      .style("font-size", "14px").text(l.name);
    g.append("line").attr("x1", l.lx).attr("x2", l.lx + 61)
      .attr("y1", cfg.legendY).attr("y2", cfg.legendY)
      .attr("stroke", l.color).attr("stroke-width", l.width);
  });
}

const fromLog = arr => arr.map(d => [Math.pow(10, d[0]), Math.pow(10, d[1])]);

spectrum({
  top: 125, bottom: 723,
  title: "フーリエスペクトル", titleX: 1830, titleY: 91,
  note: "0.4Hz band smoothing", noteX: 2014, noteSize: 21,
  unit: "cm/sec(gal·sec)", unitY: 103,
  series: [
    { data: fromLog(fasUD), color: blue, width: 2 },
    { data: fromLog(fasEW), color: green, width: 2 },
    { data: fromLog(fasNS), color: red, width: 2 }
  ],
  legendY: 774,
  legend: [
    { name: "NS", tx: 1656, lx: 1689, color: red, width: 2 },
    { name: "EW", tx: 1790, lx: 1826, color: green, width: 2 },
    { name: "UD", tx: 1930, lx: 1964, color: blue, width: 2 }
  ]
});

spectrum({
  top: 911, bottom: 1511,
  title: "相対速度応答スペクトル", titleX: 1827, titleY: 876,
  note: "h=5%", noteX: 2180, noteSize: 21,
  unit: "cm/sec", unitY: 890,
  series: [
    { data: rsUD, color: blue, width: 1.6 },
    { data: rsEW, color: green, width: 1.6 },
    { data: rsNS, color: red, width: 1.6 },
    { data: rsH, color: "#000", width: 3 }
  ],
  legendY: 1561,
  legend: [
    { name: "NS", tx: 1566, lx: 1598, color: red, width: 2 },
    { name: "EW", tx: 1721, lx: 1757, color: green, width: 2 },
    { name: "UD", tx: 1883, lx: 1916, color: blue, width: 2 },
    { name: "Horizon", tx: 2004, lx: 2076, color: "#000", width: 3.5 }
  ]
});
</script>
</body>
</html>
